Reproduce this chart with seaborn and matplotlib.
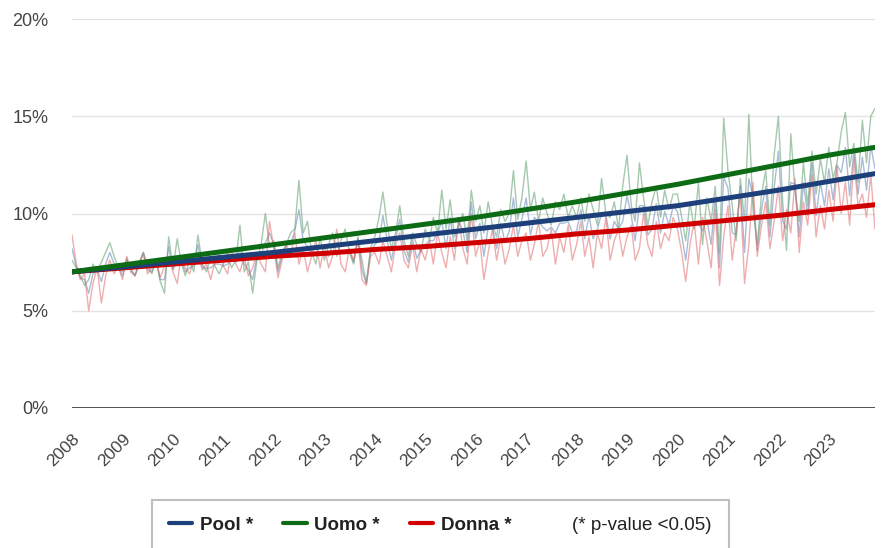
import numpy as np
import pandas as pd
import matplotlib.pyplot as plt
import seaborn as sns
from matplotlib.lines import Line2D

# serie mensili (valori letti a occhio dal grafico, in %)
mesi = pd.date_range('2008-01-01', '2023-12-01', freq='MS')

uomo = [
    7.6, 7.2, 6.8, 6.3, 6.6, 7.4, 7.0, 7.5, 8.0, 8.5, 7.8, 7.2,      # 2008
    7.0, 7.6, 7.2, 6.8, 7.5, 8.0, 7.3, 6.9, 7.6, 6.5, 5.9, 8.8,      # 2009
    7.2, 8.7, 7.5, 6.8, 7.6, 7.0, 8.9, 7.4, 7.0, 7.8, 7.3, 6.9,      # 2010
    7.4, 8.0, 7.2, 7.6, 9.4, 7.0, 7.5, 5.9, 7.6, 8.4, 10.0, 8.3,     # 2011
    8.6, 7.2, 8.0, 8.4, 9.0, 9.2, 11.7, 9.0, 9.6, 8.0, 7.4, 8.8,     # 2012
    7.6, 8.4, 9.0, 7.8, 8.6, 9.2, 8.0, 7.4, 8.8, 7.6, 6.4, 8.2,      # 2013
    8.8, 9.8, 11.1, 9.4, 8.2, 9.0, 10.4, 8.6, 7.8, 9.0, 8.4, 8.0,    # 2014
    9.2, 8.6, 9.8, 9.0, 11.2, 9.2, 10.7, 8.8, 9.4, 10.0, 8.6, 11.2,  # 2015
    9.6, 10.4, 9.0, 10.6, 9.4, 8.8, 10.2, 9.6, 10.0, 12.2, 9.7, 10.8,  # 2016
    12.7, 10.2, 11.1, 9.6, 10.8, 10.0, 9.4, 10.6, 10.2, 11.0, 9.8, 10.4,  # 2017
    9.8, 10.8, 9.6, 11.0, 10.2, 9.4, 11.8, 10.0, 9.8, 10.6, 9.2, 11.4,  # 2018
    13.0, 10.4, 9.6, 12.6, 10.8, 9.4, 10.6, 11.4, 9.8, 11.2, 10.2, 11.0,  # 2019
    11.0, 9.8, 8.6, 10.6, 9.2, 11.6, 8.4, 10.8, 9.6, 11.4, 8.0, 14.9,  # 2020
    12.2, 10.4, 8.6, 11.8, 9.6, 15.1, 10.2, 8.4, 11.0, 12.2, 9.4, 13.0,  # 2021
    15.0, 10.6, 8.1, 14.1, 11.2, 9.6, 12.6, 10.4, 13.2, 11.0, 12.8, 11.6,  # 2022
    13.4, 11.8, 12.6, 14.2, 15.2, 12.4, 13.6, 11.6, 14.8, 12.6, 15.0, 15.4,  # 2023
]

donna = [
    8.9, 7.4, 6.6, 6.9, 5.0, 6.4, 7.2, 5.4, 6.8, 7.6, 6.9, 7.3,
    6.6, 7.8, 7.0, 6.8, 7.4, 7.9, 6.9, 7.2, 7.6, 6.7, 7.3, 7.8,
    7.0, 6.4, 7.8, 7.2, 6.9, 7.6, 8.0, 7.1, 7.4, 6.6, 7.5, 7.9,
    7.3, 6.9, 8.2, 7.4, 7.0, 7.8, 6.8, 7.2, 8.0, 7.4, 7.0, 9.6,
    8.2, 6.7, 7.6, 8.4, 7.8, 9.0, 7.4, 8.2, 7.0, 7.8, 8.6, 7.2,
    8.4, 7.2, 7.8, 9.2, 7.4, 7.0, 8.2, 7.6, 8.6, 6.6, 6.3, 7.8,
    8.0, 7.4, 8.6, 7.8, 7.0, 8.4, 9.0, 7.6, 7.2, 8.4, 7.0, 8.2,
    7.6, 8.6, 7.4, 9.0, 8.0, 7.2, 8.8, 7.6, 9.8, 8.2, 7.4, 10.0,
    7.8, 8.6, 6.6, 8.0, 9.2, 7.6, 8.8, 7.4, 8.2, 9.4, 7.8, 8.6,
    9.0, 7.6, 8.4, 9.6, 7.8, 8.2, 9.2, 7.4, 8.8, 8.0, 9.4, 7.6,
    8.4, 9.6, 7.8, 8.8, 7.2, 9.0, 8.2, 9.8, 7.6, 8.6, 9.2, 7.8,
    8.8, 9.4, 7.6, 8.2, 10.0, 8.4, 7.8, 9.6, 8.2, 9.0, 8.6, 9.8,
    9.2, 8.0, 6.5, 8.4, 9.6, 7.4, 9.8, 8.6, 7.2, 10.2, 6.3, 8.8,
    10.4, 7.6, 9.2, 11.0, 6.4, 8.4, 11.6, 7.8, 9.4, 10.6, 8.2, 9.6,
    11.4, 8.6, 10.2, 9.0, 11.8, 8.0, 10.6, 9.4, 12.0, 8.8, 10.4, 9.2,
    11.2, 9.6, 12.4, 10.0, 11.6, 9.4, 12.8, 10.4, 11.0, 9.8, 12.0, 9.2,
]

pool = [
    8.2, 7.3, 6.7, 6.6, 5.9, 6.9, 7.1, 6.5, 7.4, 8.0, 7.4, 7.2,
    6.8, 7.7, 7.1, 6.8, 7.4, 8.0, 7.1, 7.0, 7.6, 6.6, 6.6, 8.3,
    7.1, 7.6, 7.6, 7.0, 7.2, 7.3, 8.4, 7.2, 7.2, 7.2, 7.4, 7.4,
    7.3, 7.4, 7.7, 7.5, 8.2, 7.4, 7.1, 6.6, 7.8, 7.9, 8.5, 9.0,
    8.4, 7.0, 7.8, 8.4, 8.4, 9.1, 10.2, 8.6, 8.3, 7.9, 8.0, 8.0,
    8.0, 7.8, 8.4, 8.5, 8.0, 8.1, 8.1, 7.5, 8.7, 7.1, 6.4, 8.0,
    8.4, 8.6, 9.9, 8.6, 7.6, 8.7, 9.7, 8.1, 7.5, 8.7, 7.7, 8.1,
    8.4, 8.6, 8.6, 9.0, 9.6, 8.2, 9.8, 8.2, 9.6, 9.1, 8.0, 10.6,
    8.7, 9.5, 7.8, 9.3, 9.3, 8.2, 9.5, 8.5, 9.1, 10.8, 8.8, 9.7,
    10.8, 8.9, 9.8, 9.6, 9.3, 9.1, 9.3, 9.0, 9.5, 9.5, 9.6, 9.0,
    9.1, 10.2, 8.7, 9.9, 8.7, 9.2, 10.0, 9.9, 8.7, 9.6, 9.2, 9.6,
    10.9, 9.9, 8.6, 10.4, 10.4, 8.9, 9.2, 10.5, 9.0, 10.1, 9.4, 10.4,
    10.1, 8.9, 7.6, 9.5, 9.4, 9.5, 9.1, 9.7, 8.4, 10.8, 7.2, 11.9,
    11.3, 9.0, 8.9, 11.4, 8.0, 11.8, 10.9, 8.1, 10.2, 11.4, 8.8, 11.3,
    13.2, 9.6, 9.2, 11.6, 11.5, 8.8, 11.6, 9.9, 12.6, 9.9, 11.6, 10.4,
    12.3, 10.7, 12.5, 12.1, 13.4, 10.9, 13.2, 11.0, 12.9, 11.2, 13.5, 12.3,
]

# trend (valori a inizio anno + ultimo mese)
date_trend = pd.to_datetime([f'{a}-01-01' for a in range(2008, 2024)] + ['2023-12-01'])
trend_pool = [7.0, 7.25, 7.5, 7.75, 8.0, 8.3, 8.6, 8.9, 9.2, 9.5, 9.8, 10.1, 10.4, 10.8, 11.2, 11.65, 12.05]
trend_uomo = [7.0, 7.35, 7.7, 8.05, 8.4, 8.75, 9.1, 9.45, 9.8, 10.2, 10.6, 11.05, 11.5, 12.0, 12.5, 13.0, 13.4]
trend_donna = [7.0, 7.2, 7.4, 7.6, 7.8, 7.95, 8.15, 8.3, 8.5, 8.7, 8.95, 9.15, 9.4, 9.65, 9.9, 10.2, 10.45]

serie = ['Pool', 'Uomo', 'Donna']
col_trend = {'Pool': '#1d3f7a', 'Uomo': '#0c6b14', 'Donna': '#d10000'}
col_raw = {'Pool': '#6485b8', 'Uomo': '#5c9c6c', 'Donna': '#e26c6c'}

raw = pd.DataFrame({
    'data': np.tile(mesi, 3),
    'valore': pool + uomo + donna,
    'serie': np.repeat(serie, len(mesi)),
})
trend = pd.DataFrame({
    'data': np.tile(date_trend, 3),
    'valore': trend_pool + trend_uomo + trend_donna,
    'serie': np.repeat(serie, len(date_trend)),
})

sns.set_theme(style='white')
plt.rcParams['font.family'] = ['Liberation Sans', 'DejaVu Sans']

fig = plt.figure(figsize=(8.82, 5.48), dpi=100)
ax = fig.add_axes([0.0816, 0.2555, 0.9104, 0.7098])

sns.lineplot(data=raw, x='data', y='valore', hue='serie', palette=col_raw,
             linewidth=1, alpha=0.55, legend=False, ax=ax)
sns.lineplot(data=trend, x='data', y='valore', hue='serie', hue_order=['Donna', 'Pool', 'Uomo'],
             palette=col_trend, linewidth=3.6, legend=False, ax=ax)

ax.set_ylim(0, 20)
ax.set_xlim(mesi[0], mesi[-1])
ax.set_yticks([0, 5, 10, 15, 20])
ax.set_yticklabels([f'{v}%' for v in [0, 5, 10, 15, 20]])
anni = pd.date_range('2008-01-01', '2023-01-01', freq='YS')
ax.set_xticks(anni)
ax.set_xticklabels([str(a.year) for a in anni], rotation=45, ha='right', va='top',
                   rotation_mode='anchor')
ax.tick_params(axis='y', length=0, pad=17, labelsize=13, labelcolor='#444444')
ax.tick_params(axis='x', length=0, pad=17, labelsize=12.5, labelcolor='#444444')
ax.set_xlabel('')
ax.set_ylabel('')
ax.yaxis.grid(True, color='#e4e4e4', linewidth=1)
ax.axhline(0, color='#333333', linewidth=1.2)
sns.despine(ax=ax, left=True, bottom=True)

handles = [Line2D([], [], color=col_trend[s], linewidth=3) for s in serie]
handles.append(Line2D([], [], color='none'))
etichette = ['Pool *', 'Uomo *', 'Donna *', '(* p-value <0.05)']
leg = fig.legend(handles, etichette, loc='upper left', bbox_to_anchor=(152 / 882, 1 - 500 / 548),
                 ncol=4, frameon=True, fancybox=False, prop={'weight': 'bold', 'size': 13.5},
                 handlelength=1.25, handletextpad=0.4, columnspacing=1.6, borderpad=0.9,
                 borderaxespad=0)
leg.get_texts()[3].set_fontweight('normal')
for t in leg.get_texts():
    t.set_color('#222222')
leg.get_frame().set_edgecolor('#b0b0b0')
leg.get_frame().set_linewidth(1.5)

fig.savefig('out.png', dpi=100)
